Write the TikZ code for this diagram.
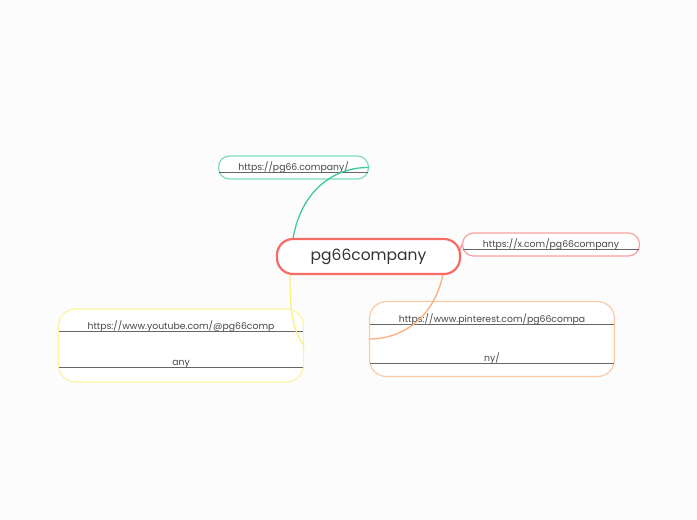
\documentclass[tikz,border=0pt]{standalone}
\usepackage{fontspec}
\setmainfont{Poppins}
\newcommand{\ul}[1]{\tikz[baseline=(t.base)]{\node[inner sep=0pt](t){#1};\draw[line width=0.5pt,black!60] ([yshift=-1.2pt]t.base west)--([yshift=-1.2pt]t.base east);}}
\begin{document}
\begin{tikzpicture}[x=1pt,y=-1pt,
  link/.style={rounded corners=11pt,line width=1.2pt,fill=white,minimum height=23pt,text=black!72,font=\fontsize{9.3}{11}\selectfont,align=center,inner sep=0pt},
  conn/.style={line width=1.3pt}]
\definecolor{cred}{HTML}{F76B65}
\definecolor{cgreen}{HTML}{7FDCC0}
\definecolor{cgreenl}{HTML}{3CCB9C}
\definecolor{cpink}{HTML}{F8A0A0}
\definecolor{corange}{HTML}{FDC9A4}
\definecolor{corangel}{HTML}{FBAE7E}
\definecolor{cyellow}{HTML}{FDF3A0}
\definecolor{cyellowl}{HTML}{FBEF80}
\fill[fill=black!1] (0,0) rectangle (697,520);
\useasboundingbox (0,0) rectangle (697,520);
\node[draw=cgreen,link,minimum width=149pt] (a) at (293.5,167.5) {\ul{https://pg66.company/}};
\node[draw=cpink,link,minimum width=176pt] (b) at (551,244.5) {\ul{https://x.com/pg66company}};
\node[draw=corange,link,minimum width=244pt,minimum height=36pt,rounded corners=17pt] (c) at (492,339) {\ul{https://www.pinterest.com/pg66compa}\\[2pt]\ul{ny/}};
\node[draw=cyellow,link,minimum width=244pt,minimum height=35pt,rounded corners=17pt] (d) at (181,345.5) {\ul{https://www.youtube.com/@pg66comp}\\[2pt]\ul{any}};
\coordinate (g1) at (293,239);
\coordinate (o1) at (443,274);
\coordinate (y1) at (290,274);
\coordinate (r1) at (460,250);
\draw[conn,cgreenl] (g1) .. controls (300,195) and (330,167) .. (a.east);
\draw[conn,corangel] (o1) .. controls (435,315) and (405,339) .. (c.west);
\draw[conn,cyellowl] (y1) .. controls (290,310) and (292,330) .. (d.east);
\draw[conn,cpink] (r1) -- (b.west);
\node[draw=cred,line width=2.2pt,rounded corners=16pt,fill=white,minimum width=183pt,minimum height=35pt,font=\fontsize{15.5}{18}\selectfont,text=black!80] (m) at (368.5,256.5) {pg66company};
\end{tikzpicture}
\end{document}
